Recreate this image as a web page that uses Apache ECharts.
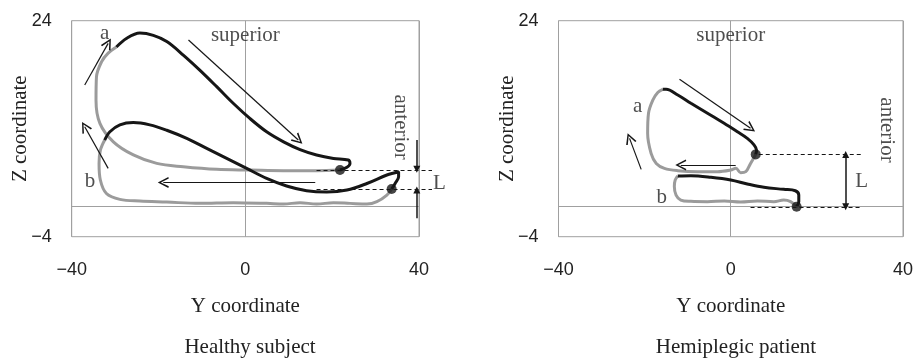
<!DOCTYPE html>
<html><head><meta charset="utf-8">
<script src="https://cdn.jsdelivr.net/npm/echarts@6/dist/echarts.min.js"></script>
<style>html,body{margin:0;padding:0;background:#fff}#c{width:916px;height:359px}</style>
</head><body><div id="c"></div>
<script>
// ---- axes ----
const xMin = -40, xMax = 40, xStep = 40;
const yMin = -4, yMax = 24, yStep = 4;
const yTickLabels = [-4, 24];
const panelTitles = ['Healthy subject', 'Hemiplegic patient'];

// ---- Healthy subject ----
const hA_gray = [[21.8,4.64],[16.4,4.56],[8.8,4.56],[1.1,4.64],[-6.6,4.73],[-14.3,5.07],[-20.4,5.5],[-25.8,6.6],[-30.4,8.3],[-33.5,10.7],[-34.4,13.7],[-34.3,16.7],[-33.1,18.7],[-31.6,19.8],[-29.7,20.6]];
const hA_black = [[-29.7,20.6],[-27.4,21.7],[-24.3,22.4],[-21.2,22.1],[-18.1,21.3],[-14.3,19.55],[-10.5,17.6],[-6.6,15.45],[-2.8,13.3],[1.1,11.3],[4.9,9.6],[8.8,8.3],[12.6,7.3],[16.4,6.6],[20.3,6.15],[23.7,5.94],[24.1,5.5],[23.4,5.0],[21.8,4.64]];
const hB_black = [[-32.4,8.53],[-31.2,9.6],[-28.9,10.5],[-25.8,10.8],[-22.0,10.5],[-18.1,9.8],[-13.5,8.75],[-8.9,7.45],[-4.3,6.15],[0.3,4.86],[4.9,3.56],[9.5,2.57],[14.1,1.96],[18.75,1.79],[23.4,2.05],[28.0,2.9],[32.6,4.0],[35.3,4.43],[35.3,3.78],[34.5,2.9],[33.7,2.18]];
const hB_gray = [[33.7,2.18],[32.6,1.4],[30.3,0.54],[28.0,0.23],[24.1,0.32],[20.3,0.41],[16.4,0.23],[12.6,0.41],[8.8,0.23],[4.9,0.32],[-2.8,0.41],[-10.5,0.32],[-18.1,0.49],[-24.3,0.62],[-28.9,0.84],[-32.0,1.6],[-33.4,3.35],[-33.7,5.5],[-33.4,7.2],[-32.4,8.53]];
const hDots = [[21.8,4.64],[33.7,2.18]];
const hArrows = [[[-37,15.66],[-31.6,21.06]],[[-31.6,4.86],[-37,10.26]],[[-13.1,21.5],[12.2,8.53]],[[16.1,3.04],[-18.9,3.04]]];
const hLArrows = [[[39.5,8.53],[39.5,4.73]],[[39.5,-1.62],[39.5,2.05]]];
const hDashed = [[[16.4,4.64],[43,4.64]],[[16.4,2.18],[43,2.18]]];
const hLabels = [{name:'superior',value:[0,22.1]},{name:'a',value:[-32.4,22.4]},{name:'b',value:[-35.8,3.13]},{name:'L',value:[44.7,2.96]}];
const hAnterior = [35.7,10.2];

// ---- Hemiplegic patient ----
const pA_black = [[-15.8,15.1],[-15.0,15.1],[-12.3,14.37],[-9.25,13.3],[-5.4,12.0],[-1.54,10.7],[1.54,9.6],[3.85,8.75],[5.4,7.9],[6.0,7.2],[5.8,6.67]];
const pA_gray = [[5.8,6.67],[4.6,5.5],[3.5,4.43],[2.3,4.3],[1.2,4.86],[0,4.64],[-3.1,4.43],[-7.7,4.43],[-12.3,4.56],[-15.4,4.86],[-17.3,5.5],[-18.5,6.8],[-19.3,9.4],[-19.1,12.0],[-18.1,13.7],[-16.95,14.7],[-15.8,15.1]];
const pB_black = [[-12.3,3.86],[-9.25,3.9],[-4.6,3.7],[0,3.35],[3.85,2.83],[7.7,2.4],[12.3,2.14],[15.0,1.96],[15.8,1.4],[15.8,0.54],[15.3,-0.11]];
const pB_gray = [[15.3,-0.11],[13.9,0.54],[12.3,0.75],[10.0,0.54],[6.2,0.62],[2.3,0.49],[-1.5,0.62],[-5.4,0.54],[-9.25,0.58],[-11.6,0.75],[-12.7,1.4],[-13.1,2.5],[-12.9,3.35],[-12.3,3.86]];
const pDots = [[5.8,6.67],[15.3,-0.11]];
const pArrows = [[[-11.9,16.4],[4.6,10.05]],[[1.15,5.3],[-11.6,5.3]],[[-20.8,4.73],[-23.5,8.75]]];
const pLArrows = [[[26.7,6.67],[26.7,-0.11]]];
const pDashed = [[[6.5,6.67],[30.4,6.67]],[[4.6,-0.2],[30.4,-0.2]]];
const pLabels = [{name:'superior',value:[0,22.1]},{name:'a',value:[-21.6,12.85]},{name:'b',value:[-16.0,1.1]},{name:'L',value:[30.4,3.13]}];
const pAnterior = [36.2,9.83];

const zeroLine = [[[-40,0],[40,0]]];

const GRAY = '#9b9b9b', BLACK = '#161616', FRAME = '#a0a0a0';
const SERIF = '"Liberation Serif", "Times New Roman", serif';
const SANS = '"Liberation Sans", Arial, sans-serif';
const chevron = 'path://M5,0 L10,11 L8.6,11.5 L5,3.2 L1.4,11.5 L0,11 Z';

function curve(data, color, i) {
  return {type:'line', xAxisIndex:i, yAxisIndex:i, data:data, smooth:0.35, showSymbol:false, symbol:'none',
    lineStyle:{color:color, width:3}, z:3, silent:true, clip:false};
}
function lines(list, i, style, symbol, size) {
  return {type:'lines', coordinateSystem:'cartesian2d', xAxisIndex:i, yAxisIndex:i, clip:false, silent:true,
    symbol:symbol, symbolSize:size, lineStyle:Object.assign({color:BLACK, width:1.2, opacity:1, curveness:0}, style),
    data:list.map(c => ({coords:c})), z:4};
}
function texts(list, anterior, i) {
  const d = list.map(o => ({name:o.name, value:o.value}));
  d.push({name:'anterior', value:anterior, label:{rotate:-90}});
  return {type:'scatter', xAxisIndex:i, yAxisIndex:i, symbolSize:0, clip:false, silent:true, z:6,
    label:{show:true, position:'inside', formatter:'{b}', fontFamily:SERIF, fontSize:21, color:'#222'}, data:d};
}
function panel(i, A_gray, A_black, B_gray, B_black, dots, arrows, Larrows, dashed, labels, anterior, Ldouble) {
  return [
    lines(zeroLine, i, {color:FRAME, width:1}, ['none','none'], 0),
    curve(A_gray, GRAY, i), curve(A_black, BLACK, i), curve(B_gray, GRAY, i), curve(B_black, BLACK, i),
    {type:'scatter', xAxisIndex:i, yAxisIndex:i, data:dots, symbolSize:10, itemStyle:{color:BLACK}, z:5, silent:true},
    lines(arrows, i, {width:1.2}, ['none', chevron], [9, 11]),
    lines(Larrows, i, {width:1.5}, [Ldouble ? 'triangle' : 'none', 'triangle'], 7),
    lines(dashed, i, {width:1, type:[4,3]}, ['none','none'], 0),
    texts(labels, anterior, i)
  ];
}

function xAxis(i) {
  return {type:'value', gridIndex:i, min:xMin, max:xMax, interval:xStep,
    name:'Y coordinate', nameLocation:'middle', nameGap:59, nameMoveOverlap:false,
    nameTextStyle:{fontFamily:SERIF, fontSize:21, color:'#222'},
    axisLine:{show:false}, axisTick:{show:false},
    splitLine:{show:true, lineStyle:{color:FRAME, width:1}},
    axisLabel:{margin:24, fontFamily:SANS, fontSize:18, color:'#222', formatter:v => String(v).replace('-', '\u2212')}};
}
function yAxis(i) {
  return {type:'value', gridIndex:i, min:yMin, max:yMax, interval:yStep,
    name:'Z coordinate', nameLocation:'middle', nameGap:41, nameRotate:90, nameMoveOverlap:false,
    nameTextStyle:{fontFamily:SERIF, fontSize:21, color:'#222'},
    axisLine:{show:false}, axisTick:{show:false}, splitLine:{show:false},
    axisLabel:{margin:20, fontFamily:SANS, fontSize:18, color:'#222',
      formatter:v => yTickLabels.includes(v) ? String(v).replace('-', '\u2212') : ''}};
}

const chart = echarts.init(document.getElementById('c'), null, {renderer:'canvas'});
chart.setOption({
  animation:false,
  backgroundColor:'#fff',
  title: panelTitles.map((t, i) => ({text:t, left: i === 0 ? 245 : 731, top:332, textAlign:'center',
    textStyle:{fontFamily:SERIF, fontSize:21, fontWeight:'normal', color:'#222'}})),
  grid:[
    {left:71.7, top:20.7, width:347.3, height:216, show:true, borderColor:FRAME, borderWidth:1},
    {left:558.5, top:20.7, width:346, height:216, show:true, borderColor:FRAME, borderWidth:1}
  ],
  xAxis:[xAxis(0), xAxis(1)],
  yAxis:[yAxis(0), yAxis(1)],
  series:[].concat(
    panel(0, hA_gray, hA_black, hB_gray, hB_black, hDots, hArrows, hLArrows, hDashed, hLabels, hAnterior, false),
    panel(1, pA_gray, pA_black, pB_gray, pB_black, pDots, pArrows, pLArrows, pDashed, pLabels, pAnterior, true)
  )
});
</script>
</body></html>
